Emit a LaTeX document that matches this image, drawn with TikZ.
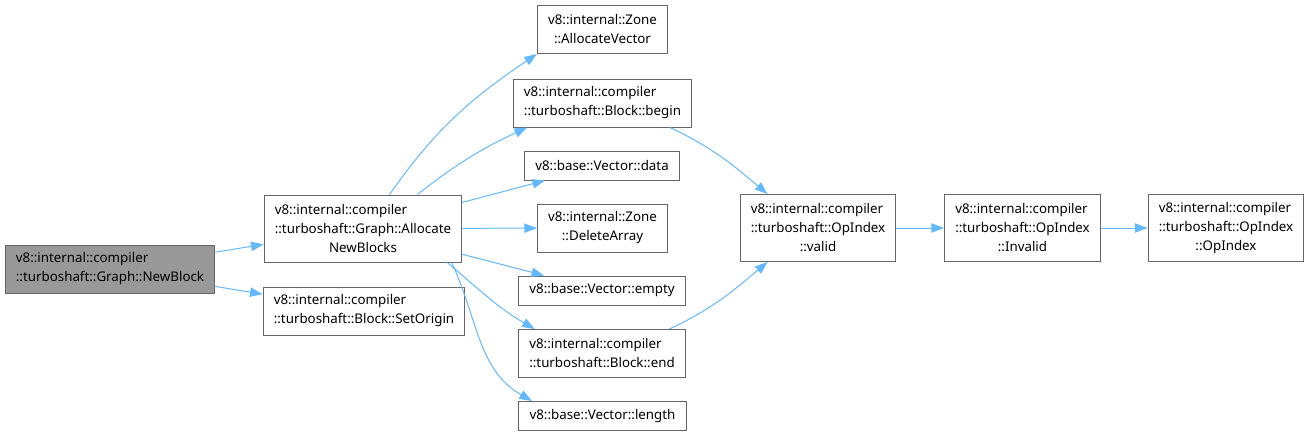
\documentclass[tikz,border=0pt]{standalone}
\usepackage{fontspec}
\setmainfont{Noto Sans}
\usepackage{tikz}
\usetikzlibrary{arrows.meta,positioning}
\definecolor{cEdge}{HTML}{63B8FF}
\definecolor{cLine}{HTML}{666666}
\definecolor{cCur}{HTML}{999999}
\tikzset{
  fn/.style      = {rectangle, draw=cLine, fill=white, line width=0.75pt, align=left,
                    inner xsep=8pt, inner ysep=1pt, text=black,
                    font=\fontsize{10}{14.25}\selectfont},
  cur/.style     = {fn, fill=cCur},
  oneline/.style = {minimum height=21.75pt},
  twoline/.style = {minimum height=36pt},
  triline/.style = {minimum height=50.25pt},
  ed/.style      = {-{Triangle[length=9.5pt,width=7pt]}, draw=cEdge, line width=0.75pt},
}
\newcommand{\lastln}[1]{\hspace*{\fill}#1\hspace*{\fill}\mbox{}}
\begin{document}
\begin{tikzpicture}[x=0.75pt, y=-0.75pt]
  \useasboundingbox (0,0) rectangle (1311,437);

  \node[cur, twoline] (nb) at (110,269) {v8::internal::compiler\\::turboshaft::Graph::NewBlock};

  \node[fn, triline] (anb) at (363,228.5) {v8::internal::compiler\\::turboshaft::Graph::Allocate\\\lastln{NewBlocks}};
  \node[fn, twoline] (so) at (364,311) {v8::internal::compiler\\::turboshaft::Block::SetOrigin};

  \node[fn, twoline] (av) at (602.5,29.5) {v8::internal::Zone\\\lastln{::AllocateVector}};
  \node[fn, twoline] (beg) at (602.5,103) {v8::internal::compiler\\::turboshaft::Block::begin};
  \node[fn, oneline] (dat) at (602,165.5) {v8::base::Vector::data};
  \node[fn, twoline] (del) at (602.5,228) {v8::internal::Zone\\\lastln{::DeleteArray}};
  \node[fn, oneline] (emp) at (602,290.5) {v8::base::Vector::empty};
  \node[fn, twoline] (end) at (602,353.5) {v8::internal::compiler\\::turboshaft::Block::end};
  \node[fn, oneline] (len) at (602.5,416) {v8::base::Vector::length};

  \node[fn, triline] (val) at (818,228) {v8::internal::compiler\\::turboshaft::OpIndex\\\lastln{::valid}};
  \node[fn, triline] (inv) at (1022.5,228) {v8::internal::compiler\\::turboshaft::OpIndex\\\lastln{::Invalid}};
  \node[fn, triline] (opi) at (1226,228) {v8::internal::compiler\\::turboshaft::OpIndex\\\lastln{::OpIndex}};

  \draw[ed] (nb) -- (anb);
  \draw[ed] (nb) -- (so);
  \draw[ed] (anb.52) to[out=55,in=-146] (av.south west);
  \draw[ed] (anb.32) to[out=38,in=-155] (beg.198);
  \draw[ed] (anb) -- (dat);
  \draw[ed] (anb) -- (del);
  \draw[ed] (anb) -- (emp);
  \draw[ed] (anb.-22) to[out=-40,in=150] (end.160);
  \draw[ed] (anb.-21) to[out=-65,in=150] (len.168);
  \draw[ed] (beg.-20) to[out=-25,in=140] (val.146);
  \draw[ed] (end.20) to[out=25,in=-140] (val.214);
  \draw[ed] (val) -- (inv);
  \draw[ed] (inv) -- (opi);
\end{tikzpicture}
\end{document}
